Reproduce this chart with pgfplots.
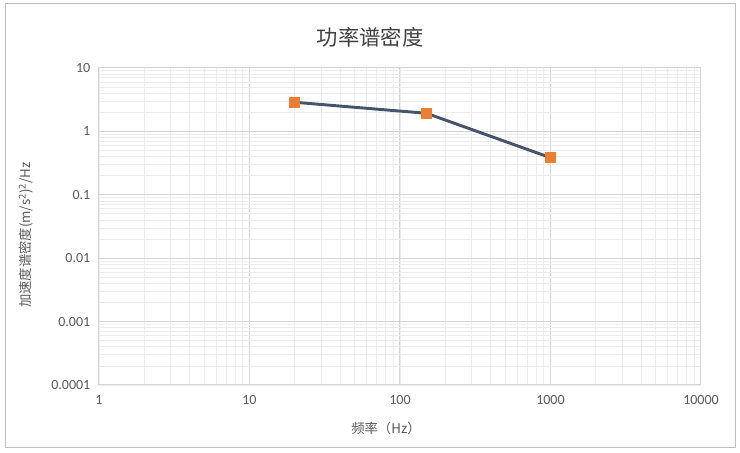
\documentclass[border=0pt]{standalone}
\usepackage{fontspec}
\usepackage{pgfplots}
\pgfplotsset{compat=1.18}
\setmainfont{Carlito}
\newfontfamily\cjk{Noto Sans CJK SC}
\definecolor{lineblue}{RGB}{68,84,106}
\definecolor{mkorange}{RGB}{237,125,49}
\definecolor{majgrid}{RGB}{212,212,212}
\definecolor{mingrid}{RGB}{236,236,236}
\definecolor{txtgray}{RGB}{89,89,89}
\begin{document}
\begin{tikzpicture}[x=0.75pt,y=0.75pt]
\path[use as bounding box] (0,0) rectangle (740,453);
\draw[color=black!25, line width=0.75pt] (5,5) rectangle (735,449);
\begin{axis}[
  at={(74.25pt,51pt)}, anchor=south west,
  scale only axis, width=451.5pt, height=237.75pt,
  xmode=log, ymode=log,
  xmin=1, xmax=10000, ymin=0.0001, ymax=10,
  xtick={1,10,100,1000,10000},
  xticklabels={1,10,100,1000,10000},
  ytick={0.0001,0.001,0.01,0.1,1,10},
  yticklabels={0.0001,0.001,0.01,0.1,1,10},
  grid=both,
  major grid style={color=majgrid, line width=0.75pt},
  minor grid style={color=mingrid, line width=0.6pt},
  axis line style={draw=majgrid, line width=0.75pt},
  major tick style={draw=none}, minor tick style={draw=none},
  tick label style={font=\fontsize{10.5}{12}\selectfont, text=txtgray},
  xticklabel style={yshift=-4pt},
  yticklabel style={xshift=-3pt},
]
\addplot[color=lineblue, line width=2.2pt, mark=square*, mark size=3.6pt,
  mark options={fill=mkorange, draw=mkorange, line width=0pt}]
  coordinates {(20,2.88) (150,1.93) (1000,0.385)};
\end{axis}
\node[font=\cjk\fontsize{16}{19}\selectfont, text=black!75] at (370,416) {功率谱密度};
\node[font=\cjk\fontsize{10}{12}\selectfont, text=txtgray] at (386,25) {频率（Hz）};
\node[font=\cjk\fontsize{10}{12}\selectfont, text=txtgray, rotate=90] at (26,218) {加速度谱密度(m/s\textsuperscript{2})\textsuperscript{2}/Hz};
\end{tikzpicture}
\end{document}
